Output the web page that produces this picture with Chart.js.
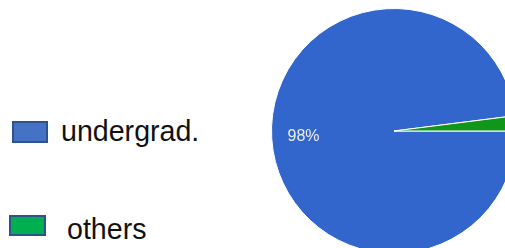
<!DOCTYPE html>
<html>
<head>
<meta charset="utf-8">
<script src="https://cdn.jsdelivr.net/npm/chart.js@4"></script>
<style>
  html, body { margin: 0; padding: 0; background: #fff; }
  body { width: 505px; height: 248px; overflow: hidden; position: relative; font-family: "Liberation Sans", Arial, sans-serif; }
  #pieWrap { position: absolute; left: 271px; top: 8px; width: 246px; height: 246px; }
  .legend-box { position: absolute; box-sizing: border-box; border: 2px solid #2f528f; }
  .legend-text { position: absolute; font-size: 28.6px; color: #111; line-height: 1; white-space: nowrap; }
</style>
</head>
<body>
<div id="legend"></div>
<div id="pieWrap"><canvas id="myChart" width="246" height="246"></canvas></div>
<script>
const labels = ['undergrad.', 'others'];
const values = [98, 2];
const sliceColors = ['#3366cc', '#109618'];
const legendColors = ['#4472c4', '#00b050'];

// legend layout (the original legend sits loosely on the left)
const legendBoxes = [
    { left: 12, top: 121, width: 36, height: 22 },
    { left: 9, top: 215, width: 37, height: 21 }
];
const legendTexts = [
    { left: 61, top: 117 },
    { left: 67, top: 215 }
];

const legend = document.getElementById('legend');
labels.forEach(function (label, i) {
    const box = document.createElement('div');
    box.className = 'legend-box';
    box.style.left = legendBoxes[i].left + 'px';
    box.style.top = legendBoxes[i].top + 'px';
    box.style.width = legendBoxes[i].width + 'px';
    box.style.height = legendBoxes[i].height + 'px';
    box.style.background = legendColors[i];
    legend.appendChild(box);

    const text = document.createElement('div');
    text.className = 'legend-text';
    text.style.left = legendTexts[i].left + 'px';
    text.style.top = legendTexts[i].top + 'px';
    text.textContent = label;
    legend.appendChild(text);
});

const percentLabels = {
    id: 'percentLabels',
    afterDatasetsDraw(chart) {
        const ctx = chart.ctx;
        const meta = chart.getDatasetMeta(0);
        const total = values.reduce((a, b) => a + b, 0);
        ctx.save();
        ctx.font = '16px "Liberation Sans", Arial, sans-serif';
        ctx.fillStyle = '#eeeeee';
        ctx.textAlign = 'center';
        ctx.textBaseline = 'middle';
        meta.data.forEach(function (arc, i) {
            const pct = values[i] / total * 100;
            if (pct < 5) return;
            const p = arc.getProps(['x', 'y', 'startAngle', 'endAngle', 'outerRadius'], true);
            const mid = (p.startAngle + p.endAngle) / 2;
            const d = p.outerRadius * 0.74;
            ctx.fillText(Math.round(pct) + '%', p.x + Math.cos(mid) * d, p.y + Math.sin(mid) * d);
        });
        ctx.restore();
    }
};

const ctx = document.getElementById('myChart').getContext('2d');

const myChart = new Chart(ctx, {
    type: 'pie',
    data: {
        labels: labels,
        datasets: [{
            data: values,
            backgroundColor: sliceColors,
            borderColor: '#ffffff',
            borderWidth: 1
        }]
    },
    options: {
        responsive: false,
        animation: false,
        rotation: 90,
        layout: { padding: 0 },
        plugins: {
            legend: { display: false },
            tooltip: { enabled: false }
        }
    },
    plugins: [percentLabels]
});
</script>
</body>
</html>
